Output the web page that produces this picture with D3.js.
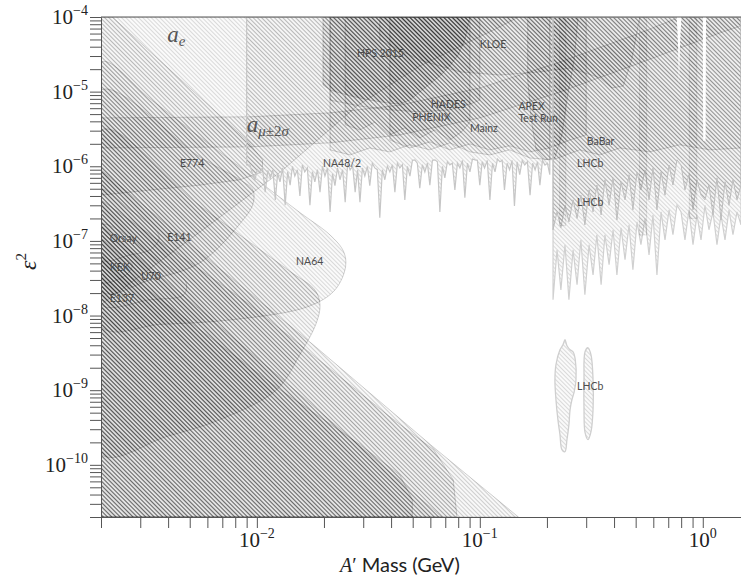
<!DOCTYPE html>
<html><head><meta charset="utf-8">
<script src="https://cdn.jsdelivr.net/npm/d3@7"></script>
<style>body{margin:0;background:#fff}svg{display:block}</style>
</head><body><svg id="c" width="741" height="577"></svg>
<script>
// ---------- data (mass in GeV, epsilon^2) ----------
const massDomain = [0.002, 1.484];
const eps2Domain = [2e-11, 1e-4];
const xMajor = [0.01, 0.1, 1];
const xMajorExp = ["\u22122", "\u22121", "0"];
const yMajor = [1e-4, 1e-5, 1e-6, 1e-7, 1e-8, 1e-9, 1e-10];
const yMajorExp = ["\u22124", "\u22125", "\u22126", "\u22127", "\u22128", "\u22129", "\u221210"];

const aeRegion = [[0.002,1.4e-8],[0.00556,1.32e-7],[0.0127,8.3e-7],[0.0281,6.4e-6],[0.0538,2.2e-5],[0.120,7.1e-5],[0.149,1e-4],[0.002,1e-4]];
const e774 = [[0.002,1e-4],[0.00225,1e-4],[0.00452,1.48e-5],[0.0090,2.25e-6],[0.0106,1.22e-6],[0.0106,8.4e-7],[0.0084,6.6e-7],[0.00556,5.6e-7],[0.00332,4.8e-7],[0.002,4.1e-7]];
const e141 = [[0.002,1.05e-5],[0.00556,1.33e-6],[0.0084,6.6e-7],[0.0096,4.8e-7],[0.0096,3.1e-7],[0.0084,1.7e-7],[0.00556,5.1e-8],[0.00332,3.0e-8],[0.002,2.1e-8]];
const orsay = [[0.002,4.83e-7],[0.0027,2.61e-7],[0.00332,1.64e-7],[0.00365,1.1e-7],[0.00332,7.6e-8],[0.0027,6.5e-8],[0.002,5.6e-8]];
const kek = [[0.002,1.03e-7],[0.00243,6.5e-8],[0.00276,4.8e-8],[0.00259,3.5e-8],[0.002,2.8e-8]];
const u70 = [[0.002,1.64e-7],[0.00368,5.3e-8],[0.0048,2.83e-8],[0.0047,1.9e-8],[0.00332,1.63e-8],[0.002,1.4e-8]];
const bdOuter = [[0.002,8.95e-7],[0.00556,7.0e-8],[0.0179,4.06e-9],[0.0616,1.75e-10],[0.149,2e-11],[0.002,2e-11]];
const bd2 = [[0.002,3.55e-7],[0.00931,1.4e-8],[0.0395,4.4e-10],[0.062,1.6e-10],[0.076,6.3e-11],[0.079,2e-11],[0.002,2e-11]];
const bd3 = [[0.002,1.6e-7],[0.0156,8.8e-10],[0.0676,2e-11],[0.002,2e-11]];
const bd4 = [[0.002,6.8e-8],[0.00556,6.46e-9],[0.0127,1.02e-9],[0.029,1.87e-10],[0.0438,7.3e-11],[0.0498,3.42e-11],[0.0498,2e-11],[0.002,2e-11]];
const bdBig = [[0.002,3.07e-6],[0.00556,2.95e-7],[0.0141,3.9e-8],[0.0182,2.21e-8],[0.0192,1.4e-8],[0.0185,8.0e-9],[0.0156,3.0e-9],[0.0123,1.02e-9],[0.00684,4.03e-10],[0.00395,2.4e-10],[0.002,1.38e-10]];
const na64 = [[0.002,2.5e-5],[0.00332,8.0e-6],[0.00556,2.45e-6],[0.0100,6.6e-7],[0.0156,2.4e-7],[0.0213,1.2e-7],[0.0245,7.2e-8],[0.0250,4.5e-8],[0.0224,2.2e-8],[0.0170,1.32e-8],[0.0078,8.8e-9],[0.00368,7.6e-9],[0.002,7.1e-9]];
const amuBand = [[0.002,4.45e-6],[0.00931,4.6e-6],[0.0213,5.2e-6],[0.0438,6.6e-6],[0.1,1.12e-5],[0.229,2.5e-5],[0.522,6.1e-5],[0.789,1e-4],[1.484,1e-4],[1.484,7.6e-5],[1.19,6.1e-5],[0.522,2.42e-5],[0.229,9.9e-6],[0.1,4.45e-6],[0.0438,2.63e-6],[0.0213,2.06e-6],[0.00931,1.82e-6],[0.002,1.76e-6]];
const na48Bottom = [[0.00931,1.04e-6],[0.00955,8.0e-7],[0.0098,6.6e-7],[0.01005,9.0e-7],[0.0103,8.4e-7],[0.0106,9.5e-7],[0.0109,4.5e-7],[0.0112,8.8e-7],[0.0115,7.0e-7],[0.0118,9.0e-7],[0.0121,3.55e-7],[0.0124,8.0e-7],[0.0127,6.2e-7],[0.01305,9.5e-7],[0.0134,3.0e-7],[0.01375,8.5e-7],[0.0141,5.6e-7],[0.01445,1.0e-6],[0.0148,7.4e-7],[0.0152,9.0e-7],[0.0156,4.0e-7],[0.016,1.05e-6],[0.0164,8.4e-7],[0.01685,9.5e-7],[0.0173,3.0e-7],[0.01775,8.5e-7],[0.0182,6.2e-7],[0.0187,9.0e-7],[0.0192,4.5e-7],[0.0197,1.0e-6],[0.0202,7.4e-7],[0.02075,9.5e-7],[0.0213,2.45e-7],[0.02185,8.0e-7],[0.0224,5.5e-7],[0.023,9.5e-7],[0.0236,6.6e-7],[0.02425,9.0e-7],[0.0249,3.3e-7],[0.02555,1.1e-6],[0.0262,8.95e-7],[0.0269,1.0e-6],[0.0276,4.5e-7],[0.0283,9.0e-7],[0.0290,3.3e-7],[0.02975,9.5e-7],[0.0305,7.4e-7],[0.0313,1.0e-6],[0.0321,5.5e-7],[0.03295,1.1e-6],[0.0338,9.5e-7],[0.0347,9.0e-7],[0.0356,2.04e-7],[0.03655,9.0e-7],[0.0375,6.6e-7],[0.0385,1.0e-6],[0.0395,8.4e-7],[0.04055,1.05e-6],[0.0416,4.5e-7],[0.0427,1.1e-6],[0.0438,9.5e-7],[0.04495,1.05e-6],[0.0461,3.55e-7],[0.04735,1.0e-6],[0.0486,7.4e-7],[0.04985,1.2e-6],[0.0511,1.22e-6],[0.05245,1.1e-6],[0.0538,5.1e-7],[0.05525,1.05e-6],[0.0567,8.4e-7],[0.0582,1.1e-6],[0.0597,5.6e-7],[0.0613,1.2e-6],[0.0629,1.22e-6],[0.06455,1.15e-6],[0.0662,2.45e-7],[0.06795,1.0e-6],[0.0697,7.0e-7],[0.07155,1.15e-6],[0.0734,1.04e-6],[0.0753,1.1e-6],[0.0773,4.83e-7],[0.07935,1.1e-6],[0.0814,9.5e-7],[0.08355,1.2e-6],[0.0857,3.8e-7],[0.088,1.1e-6],[0.0903,8.4e-7],[0.0927,1.25e-6],[0.0951,1.22e-6],[0.09755,1.2e-6],[0.100,5.6e-7],[0.1025,1.15e-6],[0.105,9.5e-7],[0.108,1.2e-6],[0.111,3.55e-7],[0.114,1.1e-6],[0.117,8.4e-7],[0.12,1.25e-6],[0.123,1.15e-6],[0.126,1.2e-6],[0.129,4.83e-7],[0.1325,1.1e-6],[0.136,8.95e-7],[0.1395,1.2e-6],[0.143,2.95e-7],[0.147,1.15e-6],[0.151,7.7e-7],[0.155,1.2e-6],[0.159,1.04e-6],[0.1635,1.15e-6],[0.168,4.1e-7],[0.1725,1.1e-6],[0.177,8.95e-7],[0.1815,1.15e-6],[0.186,5.6e-7],[0.191,1.2e-6],[0.196,1.04e-6],[0.201,1.1e-6],[0.206,7.7e-7]];
const na48Edges = [[0.009,1e-4],[0.009,1.04e-6],[0.206,1e-4]];
const hps = [[0.0198,1e-4],[0.0198,1.23e-5],[0.0213,1.05e-5],[0.0236,9.6e-6],[0.0262,8.8e-6],[0.0290,8.2e-6],[0.0321,7.7e-6],[0.0356,7.3e-6],[0.0395,7.0e-6],[0.0438,6.8e-6],[0.0486,7.7e-6],[0.0538,9.9e-6],[0.0597,1.27e-5],[0.0662,1.62e-5],[0.0734,2.2e-5],[0.080,3.1e-5],[0.0857,4.9e-5],[0.0903,1e-4]];
const kloe = [[0.0356,1e-4],[0.0356,4.9e-5],[0.0538,2.66e-5],[0.0814,1.84e-5],[0.123,1.67e-5],[0.186,1.84e-5],[0.254,2.07e-5],[0.346,1.53e-5],[0.39,1.12e-5],[0.44,1.19e-5],[0.48,2.66e-5],[0.522,1e-4]];
const phenix = [[0.0249,1e-4],[0.0249,3.6e-6],[0.029,3.07e-6],[0.0338,3.9e-6],[0.0395,2.63e-6],[0.0461,3.27e-6],[0.0538,2.4e-6],[0.0629,3.07e-6],[0.0734,2.25e-6],[0.083,2.9e-6],[0.0903,3.9e-6],[0.0903,1e-4]];
const hades = [[0.0213,1e-4],[0.0213,7.7e-6],[0.029,6.4e-6],[0.0395,5.7e-6],[0.0538,5.35e-6],[0.0734,5.7e-6],[0.0903,6.8e-6],[0.1,7.7e-6],[0.1,1e-4]];
const mainz = [[0.0395,1e-4],[0.0395,2.25e-6],[0.0486,1.76e-6],[0.0597,2.12e-6],[0.0734,1.66e-6],[0.0903,1.99e-6],[0.111,1.66e-6],[0.136,1.88e-6],[0.168,1.56e-6],[0.206,1.76e-6],[0.254,2.25e-6],[0.30,2.63e-6],[0.30,1e-4]];
const apex = [[0.164,1e-4],[0.164,1.44e-5],[0.170,4.2e-6],[0.179,1.66e-6],[0.196,1.22e-6],[0.217,1.29e-6],[0.2335,2.63e-6],[0.248,9.0e-6],[0.265,2.66e-5],[0.276,1e-4]];
const babar = [[0.0213,1e-4],[0.0213,1.66e-6],[0.0262,1.42e-6],[0.0321,1.76e-6],[0.0395,1.56e-6],[0.0486,1.94e-6],[0.0597,1.66e-6],[0.0734,2.06e-6],[0.0903,1.56e-6],[0.111,1.42e-6],[0.136,1.66e-6],[0.168,1.29e-6],[0.213,1.22e-6],[0.281,1.66e-6],[0.346,1.42e-6],[0.425,1.76e-6],[0.579,1.56e-6],[0.789,1.94e-6],[1.08,1.66e-6],[1.484,1.76e-6],[1.484,1e-4]];
const lhcbMass = [0.213,0.222,0.231,0.241,0.251,0.262,0.273,0.284,0.296,0.309,0.322,0.335,0.350,0.364,0.380,0.396,0.412,0.430,0.448,0.467,0.486,0.507,0.528,0.551,0.574,0.598,0.623,0.650,0.677,0.706,0.735,0.766,0.799,0.832,0.867,0.904,0.942,0.982,1.023,1.066,1.111,1.158,1.207,1.258,1.311,1.366,1.424,1.484];
const lhcbPromptA = [1.41e-7,2.45e-7,1.5e-7,3.0e-7,1.8e-7,3.55e-7,2.0e-7,4.1e-7,1.64e-7,4.83e-7,2.45e-7,5.6e-7,2.23e-7,6.6e-7,3.0e-7,7.0e-7,1.91e-7,6.2e-7,3.55e-7,7.7e-7,2.61e-7,8.4e-7,4.83e-7,8.95e-7,3.55e-7,9.5e-7,2.61e-7,8.4e-7,4.1e-7,1.04e-6,5.6e-7,1.22e-6,1.04e-6,4.83e-7,7.7e-7,2.61e-7,6.6e-7,4.1e-7,3.55e-7,5.6e-7,2.23e-7,7.0e-7,1.91e-7,6.2e-7,3.0e-7,6.6e-7,3.55e-7,5.6e-7];
const lhcbPromptB = [1.63e-8,7.6e-8,2.2e-8,8.9e-8,1.63e-8,7.6e-8,2.6e-8,1.03e-7,1.9e-8,8.9e-8,3.5e-8,1.21e-7,2.6e-8,1.21e-7,4.8e-8,1.41e-7,3.5e-8,1.5e-7,5.6e-8,1.64e-7,4.1e-8,1.8e-7,8.9e-8,2.0e-7,6.5e-8,2.23e-7,3.5e-8,2.45e-7,1.03e-7,2.61e-7,1.21e-7,3.0e-7,2.45e-7,1.03e-7,2.61e-7,8.9e-8,2.23e-7,1.03e-7,3.0e-7,1.41e-7,2.45e-7,8.9e-8,2.23e-7,1.03e-7,2.61e-7,1.21e-7,2.45e-7,1.64e-7];
const lhcbStripes = [
  [[0.228,1e-4],[0.228,1.6e-7],[0.243,1.6e-7],[0.243,1e-4]],
  [[0.52,1e-4],[0.52,1.2e-7],[0.56,1.2e-7],[0.56,1e-4]],
  [[0.87,1e-4],[0.87,2.0e-7],[0.94,2.0e-7],[0.94,1e-4]]
];
const lhcbIsland1 = [[0.2195,2.19e-9],[0.2288,3.48e-9],[0.236,4.06e-9],[0.241,4.74e-9],[0.246,3.94e-9],[0.254,3.48e-9],[0.262,3.27e-9],[0.268,2.56e-9],[0.270,1.38e-9],[0.265,9.5e-10],[0.259,7.5e-10],[0.254,5.48e-10],[0.251,3.45e-10],[0.246,2.17e-10],[0.241,1.5e-10],[0.2335,1.6e-10],[0.2288,2.54e-10],[0.224,4.03e-10],[0.2195,7.5e-10],[0.2172,1.38e-9]];
const lhcbIsland2 = [[0.2964,3.27e-9],[0.3057,3.7e-9],[0.3153,2.98e-9],[0.322,1.38e-9],[0.322,5.48e-10],[0.3153,2.78e-10],[0.3057,2.17e-10],[0.2964,2.72e-10],[0.2933,5.48e-10],[0.2933,1.38e-9]];
const resonanceGaps = [
  [[0.764,1e-4],[0.775,4e-5],[0.782,1.23e-5],[0.790,4e-5],[0.802,1e-4]],
  [[1.0,1e-4],[1.004,2.2e-6],[1.03,2.2e-6],[1.034,1e-4]]
];
const labels = [
  ["HPS 2015",0.0281,2.92e-5],["KLOE",0.100,3.85e-5],["HADES",0.0603,6.05e-6],["PHENIX",0.0498,4.05e-6],
  ["Mainz",0.0903,2.9e-6],["APEX",0.149,5.7e-6],["Test Run",0.149,3.9e-6],["BaBar",0.302,1.94e-6],
  ["LHCb",0.273,9.8e-7],["LHCb",0.273,2.95e-7],["LHCb",0.273,1.02e-9],["NA48/2",0.0198,9.8e-7],
  ["E774",0.00452,9.8e-7],["Orsay",0.00219,9.7e-8],["E141",0.00396,1.0e-7],["KEK",0.00219,3.98e-8],
  ["U70",0.00302,3.0e-8],["E137",0.00219,1.53e-8],["NA64",0.0150,4.8e-8]
];
const aeLabelPos = [0.00396, 4.6e-5];
const amuLabelPos = [0.0090, 2.9e-6];

// ---------- drawing ----------
const W = 741, H = 577, L = 101, R = 741, T = 17, B = 517;
const svg = d3.select("#c");
const x = d3.scaleLog().domain(massDomain).range([L, R]);
const y = d3.scaleLog().domain(eps2Domain).range([B, T]);
const defs = svg.append("defs");
defs.append("clipPath").attr("id", "plot").append("rect")
  .attr("x", L).attr("y", T).attr("width", R - L).attr("height", B - T);

const tones = {0: {op: 0, fill: 0}, 1: {op: 0.13, fill: 0.018}, 2: {op: 0.17, fill: 0.026}, 3: {op: 0.24, fill: 0.05}};
Object.entries(tones).forEach(([k, t]) => {
  const p = defs.append("pattern").attr("id", "h" + k).attr("patternUnits", "userSpaceOnUse")
    .attr("width", 3).attr("height", 3).attr("patternTransform", "rotate(-45)");
  p.append("line").attr("x1", 1.5).attr("y1", 0).attr("x2", 1.5).attr("y2", 3)
    .attr("stroke", "#000").attr("stroke-opacity", t.op).attr("stroke-width", 1);
});
const mask = defs.append("mask").attr("id", "gaps").attr("maskUnits", "userSpaceOnUse")
  .attr("x", 0).attr("y", 0).attr("width", W).attr("height", H);
mask.append("rect").attr("width", W).attr("height", H).attr("fill", "white");

const lin = d3.line().x(d => x(d[0])).y(d => y(d[1]));
const smooth = d3.line().x(d => x(d[0])).y(d => y(d[1])).curve(d3.curveCatmullRomClosed.alpha(0.5));
resonanceGaps.forEach(g => mask.append("path").attr("d", lin(g) + "Z").attr("fill", "black"));

const na48 = [na48Edges[0], na48Edges[1]].concat(na48Bottom, [na48Edges[2]]);
const lhcbA = [[lhcbMass[0], 1e-4]].concat(lhcbMass.map((m, i) => [m, lhcbPromptA[i]]), [[lhcbMass[lhcbMass.length - 1], 1e-4]]);
const lhcbB = [[lhcbMass[0], 1e-4]].concat(lhcbMass.map((m, i) => [m, lhcbPromptB[i]]), [[lhcbMass[lhcbMass.length - 1], 1e-4]]);

const layers = [
  {d: bdOuter, t: 2}, {d: bd2, t: 2}, {d: bd3, t: 2}, {d: bd4, t: 2}, {d: bdBig, t: 2, s: 1},
  {d: orsay, t: 0, s: 1}, {d: kek, t: 0, s: 1}, {d: u70, t: 0, s: 1},
  {d: e141, t: 1, s: 1}, {d: e774, t: 1},
  {d: na64, t: 1, s: 1}, {d: aeRegion, t: 1}, {d: amuBand, t: 1, m: 1},
  {d: na48, t: 1, o: "#c6c6c6", w: 1.2},
  {d: babar, t: 1, m: 1}, {d: mainz, t: 1}, {d: phenix, t: 1}, {d: hades, t: 1},
  {d: hps, t: 3}, {d: kloe, t: 1}, {d: apex, t: 2},
  {d: lhcbB, t: 1, m: 1, o: "#d0d0d0", w: 1.2}, {d: lhcbA, t: 2, m: 1, o: "#bdbdbd", w: 1}
].concat(lhcbStripes.map(s => ({d: s, t: 1, m: 1, o: "rgba(0,0,0,0.12)", w: 0.8})), [
  {d: lhcbIsland1, t: 1, s: 1, o: "#cfcfcf", w: 1.3}, {d: lhcbIsland2, t: 1, s: 1, o: "#cfcfcf", w: 1.3}
]);

const gPlot = svg.append("g").attr("clip-path", "url(#plot)");
layers.forEach(l => {
  const d = l.s ? smooth(l.d) : lin(l.d) + "Z";
  const g = gPlot.append("g");
  if (l.m) g.attr("mask", "url(#gaps)");
  g.append("path").attr("d", d).attr("fill", "#000").attr("fill-opacity", tones[l.t].fill);
  g.append("path").attr("d", d).attr("fill", "url(#h" + l.t + ")");
  g.append("path").attr("d", d).attr("fill", "none")
    .attr("stroke", l.o || "rgba(0,0,0,0.2)").attr("stroke-width", l.w || 0.9);
});

// labels
const gl = svg.append("g").attr("clip-path", "url(#plot)")
  .attr("font-family", "Lato, 'Open Sans', sans-serif").attr("font-size", 10.5).attr("fill", "#4d4d4d");
gl.selectAll("text").data(labels).join("text")
  .attr("x", d => x(d[1])).attr("y", d => y(d[2])).text(d => d[0]);

const ae = svg.append("text").attr("x", x(aeLabelPos[0])).attr("y", y(aeLabelPos[1]))
  .attr("font-family", "'Liberation Serif', serif").attr("font-style", "italic").attr("font-size", 23).attr("fill", "#555");
ae.append("tspan").text("a");
ae.append("tspan").attr("font-size", 15).attr("dy", 4).text("e");
const am = svg.append("text").attr("x", x(amuLabelPos[0])).attr("y", y(amuLabelPos[1]))
  .attr("font-family", "'Liberation Serif', serif").attr("font-size", 23).attr("fill", "#555");
am.append("tspan").attr("font-style", "italic").text("a");
const sub = am.append("tspan").attr("font-size", 15).attr("dy", 4);
sub.append("tspan").attr("font-style", "italic").text("\u03bc");
sub.append("tspan").text("\u00b12");
sub.append("tspan").attr("font-style", "italic").text("\u03c3");

// axes
const xTicks = [], yTicks = [];
for (let k = -3; k <= 0; k++) for (let d = 1; d <= 9; d++) { const v = d * Math.pow(10, k); if (v >= massDomain[0] * 0.999 && v <= massDomain[1]) xTicks.push(v); }
for (let k = -11; k <= -4; k++) for (let d = 1; d <= 9; d++) { const v = d * Math.pow(10, k); if (v >= eps2Domain[0] * 0.999 && v <= eps2Domain[1] * 1.001) yTicks.push(v); }
const ax = svg.append("g").attr("transform", `translate(0,${B})`)
  .call(d3.axisBottom(x).tickValues(xTicks).tickSize(11).tickSizeOuter(0).tickFormat(() => ""));
const ay = svg.append("g").attr("transform", `translate(${L},0)`)
  .call(d3.axisLeft(y).tickValues(yTicks).tickSize(11).tickSizeOuter(0).tickFormat(() => ""));
[ax, ay].forEach(a => { a.selectAll("line").attr("stroke", "#555"); a.select(".domain").attr("stroke", "#555"); });
svg.append("line").attr("x1", L).attr("x2", R).attr("y1", T).attr("y2", T).attr("stroke", "#555");

const serif = "'Liberation Serif', 'DejaVu Serif', serif";
yMajor.forEach((v, i) => {
  const t = svg.append("text").attr("x", 88).attr("y", y(v) + 7).attr("text-anchor", "end")
    .attr("font-family", serif).attr("font-size", 21).attr("fill", "#222");
  t.append("tspan").text("10");
  t.append("tspan").attr("font-size", 14).attr("dy", -9).text(yMajorExp[i]);
});
xMajor.forEach((v, i) => {
  const t = svg.append("text").attr("x", x(v)).attr("y", 547).attr("text-anchor", "middle")
    .attr("font-family", serif).attr("font-size", 21).attr("fill", "#222");
  t.append("tspan").text("10");
  t.append("tspan").attr("font-size", 14).attr("dy", -9).text(xMajorExp[i]);
});
const xl = svg.append("text").attr("x", 340).attr("y", 572).attr("font-size", 20).attr("fill", "#222");
xl.append("tspan").attr("font-family", serif).attr("font-style", "italic").text("A");
xl.append("tspan").attr("font-family", serif).text("\u2032");
xl.append("tspan").attr("font-family", "Lato, sans-serif").text(" Mass (GeV)");
const yl = svg.append("text").attr("transform", "translate(36,270) rotate(-90)")
  .attr("font-family", serif).attr("font-size", 24).attr("fill", "#222");
yl.append("tspan").attr("font-style", "italic").text("\u03b5");
yl.append("tspan").attr("font-size", 15).attr("dy", -10).text("2");
</script>
</body></html>
